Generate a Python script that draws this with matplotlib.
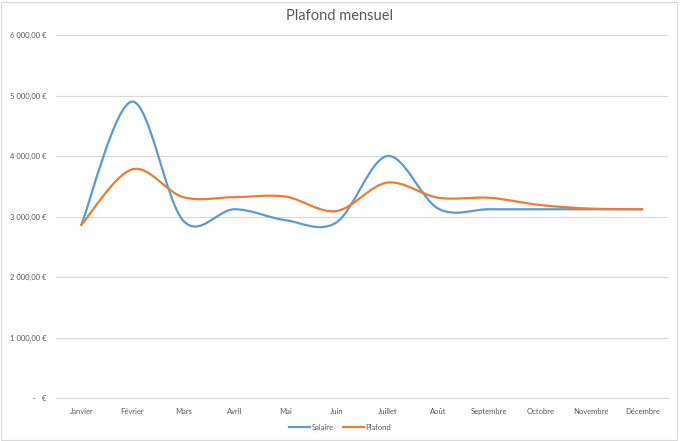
import matplotlib
matplotlib.use("Agg")
import matplotlib.pyplot as plt
from matplotlib.path import Path
from matplotlib.patches import PathPatch, Rectangle
from matplotlib.lines import Line2D
import numpy as np

# data
mois = ["Janvier", "Février", "Mars", "Avril", "Mai", "Juin", "Juillet",
        "Août", "Septembre", "Octobre", "Novembre", "Décembre"]
salaire = [2860, 4900, 2930, 3120, 2940, 2900, 4000, 3130, 3120, 3120, 3120, 3120]
plafond = [2860, 3780, 3320, 3320, 3330, 3090, 3560, 3310, 3310, 3190, 3130, 3120]
yticks = [0, 1000, 2000, 3000, 4000, 5000, 6000]

BLUE = "#5B9BD5"
ORANGE = "#ED7D31"
GREY_TXT = "#595959"
GRID = "#D9D9D9"

plt.rcParams['font.family'] = ['Lato', 'DejaVu Sans']


def smooth_path(vals):
    # excel-like smoothed line : cubic bezier, catmull-rom control points
    pts = np.column_stack([np.arange(len(vals)), np.array(vals, dtype=float)])
    ext = np.vstack([pts[0], pts, pts[-1]])
    verts = [tuple(pts[0])]
    codes = [Path.MOVETO]
    for i in range(len(pts) - 1):
        p0, p1, p2, p3 = ext[i], ext[i + 1], ext[i + 2], ext[i + 3]
        c1 = p1 + (p2 - p0) / 6.0
        c2 = p2 - (p3 - p1) / 6.0
        verts += [tuple(c1), tuple(c2), tuple(p2)]
        codes += [Path.CURVE4] * 3
    return Path(verts, codes)


def euro(v, pos=None):
    if v == 0:
        return " -   €"
    return f"{int(v):,}".replace(",", " ") + ",00 €"


fig = plt.figure(figsize=(6.8, 4.41), dpi=100)
ax = fig.add_axes([0.082, 0.0975, 0.9, 0.8231])

for vals, col in [(salaire, BLUE), (plafond, ORANGE)]:
    ax.add_patch(PathPatch(smooth_path(vals), facecolor="none", edgecolor=col,
                           linewidth=1.6, capstyle="round", joinstyle="round"))

ax.set_xlim(-0.5, len(mois) - 0.5)
ax.set_ylim(0, 6000)
ax.set_yticks(yticks)
ax.set_yticklabels([euro(v) for v in yticks])
ax.set_xticks(range(len(mois)))
ax.set_xticklabels(mois)
ax.tick_params(axis="both", length=0, labelsize=5.5, colors=GREY_TXT)
ax.tick_params(axis="y", pad=7)
ax.tick_params(axis="x", pad=7)
ax.grid(axis="y", color=GRID, linewidth=0.8)
ax.set_axisbelow(True)
for s in ["top", "right", "left"]:
    ax.spines[s].set_visible(False)
ax.spines["bottom"].set_color(GRID)
ax.spines["bottom"].set_linewidth(0.8)

fig.text(0.5, 0.964, "Plafond mensuel", ha="center", va="center",
         fontsize=10.5, color=GREY_TXT)

handles = [Line2D([], [], color=BLUE, linewidth=1.6),
           Line2D([], [], color=ORANGE, linewidth=1.6)]
fig.legend(handles, ["Salaire", "Plafond"], loc="center", bbox_to_anchor=(0.5, 0.031),
           ncol=2, frameon=False, fontsize=5.5, handlelength=2.8, handletextpad=0.2,
           columnspacing=1.2, labelcolor=GREY_TXT)

fig.add_artist(Rectangle((0.002, 0.002), 0.994, 0.994, transform=fig.transFigure,
                         fill=False, edgecolor=GRID, linewidth=0.8))

fig.savefig("out.png", dpi=100)
